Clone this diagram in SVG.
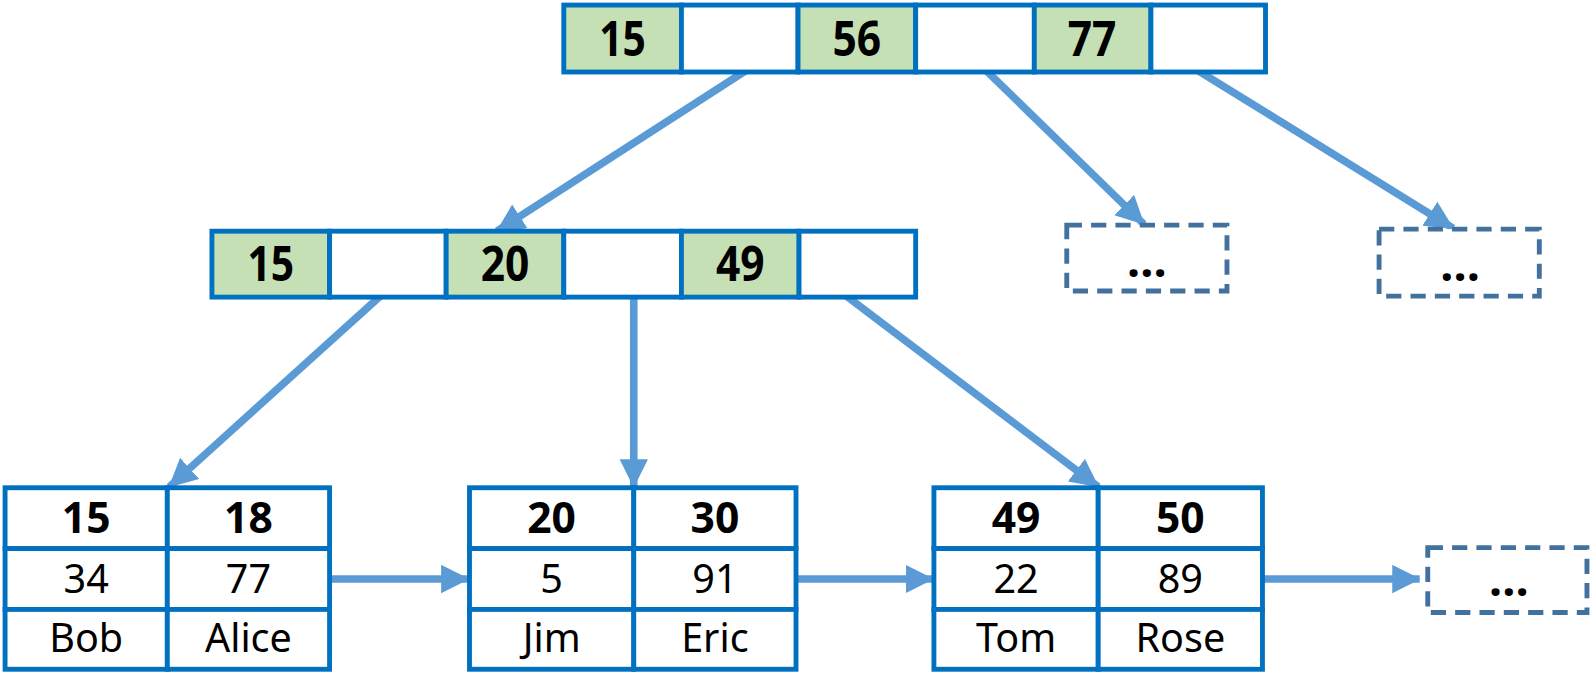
<svg xmlns="http://www.w3.org/2000/svg" width="1590" height="684" viewBox="0 0 1590 684">
<style>
.cell{stroke:#0070C0;stroke-width:4.8;fill:#fff}
.key{fill:#C5E0B4}
.dash{fill:#fff;stroke:#41719C;stroke-width:4.8;stroke-dasharray:15 9}
.k{font-family:"Noto Sans","Open Sans",sans-serif;font-weight:bold;font-size:47px;text-anchor:middle;fill:#000}
.b{font-family:"Noto Sans","Open Sans",sans-serif;font-weight:bold;font-size:42px;text-anchor:middle;fill:#000}
.r{font-family:"Noto Sans","Open Sans",sans-serif;font-size:39px;text-anchor:middle;fill:#000}
.dots{font-family:"Noto Sans",sans-serif;font-weight:bold;font-size:46px;text-anchor:middle;fill:#000}
.conn{stroke:#5B9BD5;stroke-width:7.5;fill:none}
</style>
<defs>
<marker id="ah" markerUnits="userSpaceOnUse" markerWidth="32" markerHeight="32" refX="27" refY="14" orient="auto">
<polygon points="0,0 28,14 0,28" fill="#5B9BD5"/>
</marker>
</defs>
<rect width="1590" height="684" fill="#fff"/>
<g transform="scale(1.01403)">
<g id="connectors">
<line class="conn" x1="735" y1="70" x2="490" y2="228" marker-end="url(#ah)"/>
<line class="conn" x1="973" y1="70" x2="1128" y2="221" marker-end="url(#ah)"/>
<line class="conn" x1="1182" y1="70" x2="1433" y2="225" marker-end="url(#ah)"/>
<line class="conn" x1="375" y1="292" x2="167" y2="480" marker-end="url(#ah)"/>
<line class="conn" x1="625" y1="292" x2="625" y2="480" marker-end="url(#ah)"/>
<line class="conn" x1="832" y1="290" x2="1083" y2="480" marker-end="url(#ah)"/>
<line class="conn" x1="325" y1="571" x2="462" y2="571" marker-end="url(#ah)"/>
<line class="conn" x1="785" y1="571" x2="920" y2="571" marker-end="url(#ah)"/>
<line class="conn" x1="1245" y1="571" x2="1400" y2="571" marker-end="url(#ah)"/>
</g>
<g id="root">
<rect class="cell key" x="556" y="5" width="116" height="66"/>
<rect class="cell" x="672" y="5" width="115" height="66"/>
<rect class="cell key" x="787" y="5" width="116" height="66"/>
<rect class="cell" x="903" y="5" width="117" height="66"/>
<rect class="cell key" x="1020" y="5" width="115" height="66"/>
<rect class="cell" x="1135" y="5" width="113" height="66"/>
<text class="k" x="614" y="55" textLength="46" lengthAdjust="spacingAndGlyphs">15</text>
<text class="k" x="845" y="55" textLength="48" lengthAdjust="spacingAndGlyphs">56</text>
<text class="k" x="1077" y="55" textLength="48" lengthAdjust="spacingAndGlyphs">77</text>
</g>
<g id="inner">
<rect class="cell key" x="209" y="228" width="116" height="65"/>
<rect class="cell" x="325" y="228" width="115" height="65"/>
<rect class="cell key" x="440" y="228" width="116" height="65"/>
<rect class="cell" x="556" y="228" width="116" height="65"/>
<rect class="cell key" x="672" y="228" width="116" height="65"/>
<rect class="cell" x="788" y="228" width="115" height="65"/>
<text class="k" x="267" y="277" textLength="46" lengthAdjust="spacingAndGlyphs">15</text>
<text class="k" x="498" y="277" textLength="48" lengthAdjust="spacingAndGlyphs">20</text>
<text class="k" x="730" y="277" textLength="48" lengthAdjust="spacingAndGlyphs">49</text>
</g>
<g id="more1">
<rect class="dash" x="1052" y="222" width="158" height="65"/>
<text class="dots" x="1131" y="273">…</text>
</g>
<g id="more2">
<rect class="dash" x="1360" y="226" width="158" height="66"/>
<text class="dots" x="1440" y="277">…</text>
</g>
<g id="leaf1">
<rect class="cell" x="5" y="481" width="160" height="60"/>
<rect class="cell" x="165" y="481" width="160" height="60"/>
<rect class="cell" x="5" y="541" width="160" height="60"/>
<rect class="cell" x="165" y="541" width="160" height="60"/>
<rect class="cell" x="5" y="601" width="160" height="59"/>
<rect class="cell" x="165" y="601" width="160" height="59"/>
<text class="b" x="85" y="526">15</text>
<text class="b" x="245" y="526">18</text>
<text class="r" x="85" y="585">34</text>
<text class="r" x="245" y="585">77</text>
<text class="r" x="85" y="643">Bob</text>
<text class="r" x="245" y="643">Alice</text>
</g>
<g id="leaf2">
<rect class="cell" x="463" y="481" width="162" height="60"/>
<rect class="cell" x="625" y="481" width="160" height="60"/>
<rect class="cell" x="463" y="541" width="162" height="60"/>
<rect class="cell" x="625" y="541" width="160" height="60"/>
<rect class="cell" x="463" y="601" width="162" height="59"/>
<rect class="cell" x="625" y="601" width="160" height="59"/>
<text class="b" x="544" y="526">20</text>
<text class="b" x="705" y="526">30</text>
<text class="r" x="544" y="585">5</text>
<text class="r" x="705" y="585">91</text>
<text class="r" x="544" y="643">Jim</text>
<text class="r" x="705" y="643">Eric</text>
</g>
<g id="leaf3">
<rect class="cell" x="921" y="481" width="162" height="60"/>
<rect class="cell" x="1083" y="481" width="162" height="60"/>
<rect class="cell" x="921" y="541" width="162" height="60"/>
<rect class="cell" x="1083" y="541" width="162" height="60"/>
<rect class="cell" x="921" y="601" width="162" height="59"/>
<rect class="cell" x="1083" y="601" width="162" height="59"/>
<text class="b" x="1002" y="526">49</text>
<text class="b" x="1164" y="526">50</text>
<text class="r" x="1002" y="585">22</text>
<text class="r" x="1164" y="585">89</text>
<text class="r" x="1002" y="643">Tom</text>
<text class="r" x="1164" y="643">Rose</text>
</g>
<g id="more3">
<rect class="dash" x="1408" y="540" width="157" height="64"/>
<text class="dots" x="1488" y="588">…</text>
</g>
</g>
</svg>
